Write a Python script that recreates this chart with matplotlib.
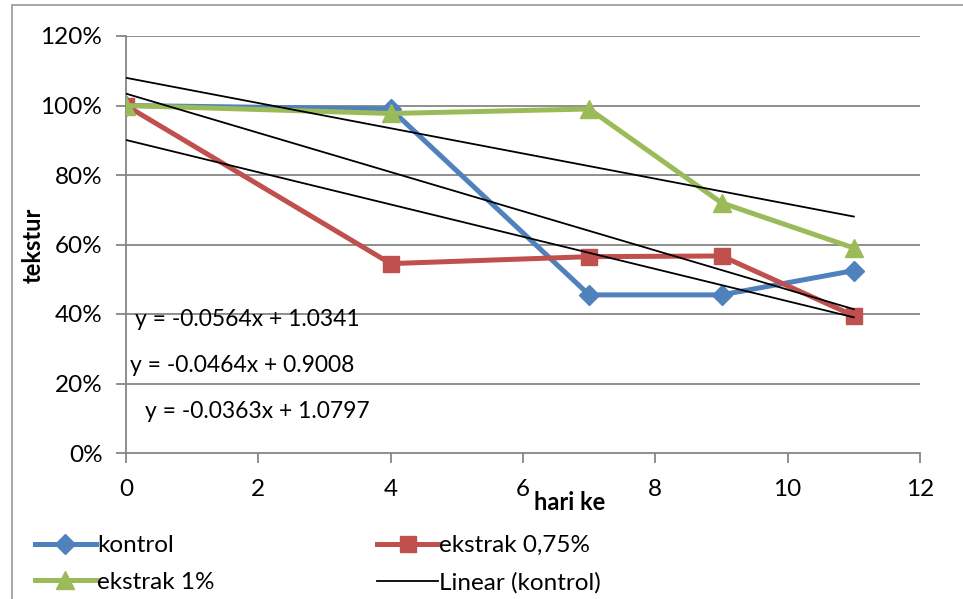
import matplotlib.pyplot as plt
import matplotlib.patches as mpatches
from matplotlib.ticker import FuncFormatter
import numpy as np

plt.rcParams["font.family"] = ["Lato", "DejaVu Sans"]

# hari pengamatan
hari = [0, 4, 7, 9, 11]

# nilai tekstur (fraksi)
kontrol = [1.00, 0.99, 0.455, 0.455, 0.525]
ekstrak_075 = [1.00, 0.545, 0.565, 0.567, 0.395]
ekstrak_1 = [1.00, 0.977, 0.99, 0.72, 0.59]

# persamaan garis tren (slope, intercept)
tren_slope = [-0.0564, -0.0464, -0.0363]
tren_intercept = [1.0341, 0.9008, 1.0797]
tren_label = ["y = -0.0564x + 1.0341", "y = -0.0464x + 0.9008", "y = -0.0363x + 1.0797"]

x_ticks = [0, 2, 4, 6, 8, 10, 12]
y_ticks = [0, 0.2, 0.4, 0.6, 0.8, 1.0, 1.2]

W, H = 963, 599
fig = plt.figure(figsize=(W / 100, H / 100), dpi=100)
ax = fig.add_axes([126 / W, 1 - 453 / H, (920 - 126) / W, (453 - 36) / H])

# garis tepi area grafik
fig.patches.append(mpatches.Rectangle((12 / W, -0.1), 1.2, 1 - 5 / H + 0.1,
                                      transform=fig.transFigure, fill=False,
                                      edgecolor="#a0a0a0", linewidth=1.3))

gray = "#868686"
for y in y_ticks[1:]:
    ax.axhline(y, color=gray, linewidth=1.3, zorder=1)

h_k, = ax.plot(hari, kontrol, color="#4F81BD", marker="D", markersize=10, linewidth=3.6,
               label="kontrol", zorder=3)
h_r, = ax.plot(hari, ekstrak_075, color="#C0504D", marker="s", markersize=12, linewidth=3.6,
               label="ekstrak 0,75%", zorder=3)
h_g, = ax.plot(hari, ekstrak_1, color="#9BBB59", marker="^", markersize=13, linewidth=3.6,
               label="ekstrak 1%", zorder=4)

xs = np.array([0, 11])
tren_handles = []
for m, c in zip(tren_slope, tren_intercept):
    h, = ax.plot(xs, m * xs + c, color="black", linewidth=1.3, zorder=5)
    tren_handles.append(h)

# label persamaan
eq_pos = [(135, 320), (130, 365), (145, 412)]
for (px, py), txt in zip(eq_pos, tren_label):
    fig.text(px / W, 1 - py / H, txt, fontsize=16.5, va="center", ha="left")

ax.set_xlim(0, 12)
ax.set_ylim(0, 1.2)
ax.set_xticks(x_ticks)
ax.set_yticks(y_ticks)
ax.yaxis.set_major_formatter(FuncFormatter(lambda v, p: f"{v * 100:.0f}%"))
ax.tick_params(axis="both", labelsize=17.5, color=gray, length=7, width=1.3, direction="out")
ax.tick_params(axis="y", pad=10)
ax.tick_params(axis="x", pad=12)
for s in ["top", "right"]:
    ax.spines[s].set_visible(False)
for s in ["left", "bottom"]:
    ax.spines[s].set_color(gray)
    ax.spines[s].set_linewidth(1.3)

fig.text(33 / W, 1 - 245 / H, "tekstur", rotation=90, fontsize=17, fontweight="bold",
         ha="center", va="center")
fig.text(570 / W, 1 - 503 / H, "hari ke", fontsize=17, fontweight="bold",
         ha="center", va="center")

# urutan kolom: baris pertama kontrol & ekstrak 0,75%
fig.legend([h_k, h_g, h_r, tren_handles[0]],
           ["kontrol", "ekstrak 1%", "ekstrak 0,75%", "Linear (kontrol)"],
           loc="upper left", bbox_to_anchor=(35 / W, 1 - 535 / H), ncol=2, frameon=False,
           fontsize=17.5, handlelength=2.5, handletextpad=0.05, columnspacing=6.7,
           labelspacing=0.65, borderaxespad=0, borderpad=0)

fig.savefig("out.png", dpi=100)
